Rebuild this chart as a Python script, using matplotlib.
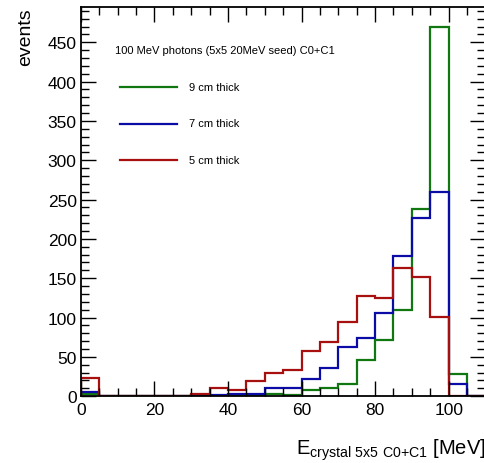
import matplotlib
matplotlib.use("Agg")
import matplotlib.pyplot as plt
from matplotlib.ticker import MultipleLocator

plt.rcParams["font.family"] = ["Liberation Sans", "DejaVu Sans"]

# 5 MeV bins, 0..110
edges = list(range(0, 115, 5))
green_9cm = [3, 0, 0, 0, 0, 0, 0, 0, 0, 1, 3, 2, 8, 11, 16, 46, 71, 110, 238, 470, 28, 0]
blue_7cm = [5, 0, 0, 0, 0, 0, 1, 1, 3, 3, 10, 10, 22, 36, 62, 74, 106, 178, 227, 259, 16, 0]
red_5cm = [23, 0, 0, 0, 0, 0, 3, 10, 8, 19, 30, 33, 58, 69, 94, 128, 125, 163, 151, 101, 0, 0]

series = [
    ("9 cm thick", green_9cm, "#117711"),
    ("7 cm thick", blue_7cm, "#0b0ba6"),
    ("5 cm thick", red_5cm, "#a80f0f"),
]

fig = plt.figure(figsize=(4.84, 4.64), dpi=100)
ax = fig.add_axes([0.167, 0.144, 0.836, 0.839])

for name, vals, col in series:
    ax.stairs(vals, edges, color=col, lw=1.6)

ax.set_xlim(0, 110)
ax.set_ylim(0, 495)
ax.xaxis.set_major_locator(MultipleLocator(20))
ax.xaxis.set_minor_locator(MultipleLocator(5))
ax.yaxis.set_major_locator(MultipleLocator(50))
ax.yaxis.set_minor_locator(MultipleLocator(10))
ax.tick_params(which="both", direction="in", top=True, right=True, width=1.0, labelsize=12.5)
ax.tick_params(which="major", length=11)
ax.tick_params(which="minor", length=5.5)
ax.tick_params(axis="y", pad=3)
ax.tick_params(axis="x", pad=4)
for s in ax.spines.values():
    s.set_linewidth(1.3)

ax.set_ylabel("events", fontsize=14, loc="top", labelpad=10)
ax.set_xlabel(r"E$_{\mathregular{crystal\ 5x5\ C0{+}C1}}$ [MeV]", fontsize=14.5,
              loc="right", labelpad=14)

# legend, ROOT style
fig.text(115 / 484, 1 - 51 / 464, "100 MeV photons (5x5 20MeV seed) C0+C1",
         fontsize=8, va="center", ha="left")
for i, (name, vals, col) in enumerate(series):
    yy = 1 - (88 + 36.5 * i) / 464
    fig.add_artist(plt.Line2D([120 / 484, 177 / 484], [yy, yy], color=col, lw=1.6))
    fig.text(189 / 484, yy, name, fontsize=8, va="center", ha="left")

fig.savefig("out.png", dpi=100)
